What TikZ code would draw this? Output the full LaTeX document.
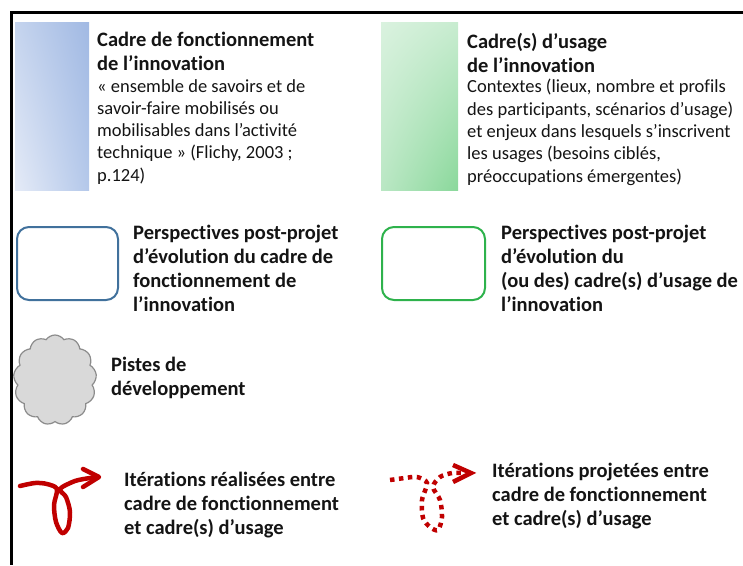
\documentclass[tikz,border=0pt]{standalone}
\usepackage{fontspec}
\setmainfont{Carlito}[Ligatures={NoCommon}]
\usetikzlibrary{shapes.symbols,shadings}
\definecolor{frameblk}{HTML}{000000}
\definecolor{bluestroke}{HTML}{41719C}
\definecolor{greenstroke}{HTML}{2EB24C}
\definecolor{arrowred}{HTML}{C00000}
\definecolor{cloudfill}{HTML}{D9D9D9}
\definecolor{cloudline}{HTML}{8C8C8C}
\definecolor{txt}{HTML}{141414}
\definecolor{bUL}{HTML}{C5D4EE}
\definecolor{bUR}{HTML}{A1B9E3}
\definecolor{bLL}{HTML}{E5EBF7}
\definecolor{bLR}{HTML}{B4C8EA}
\definecolor{gUL}{HTML}{DAF2DF}
\definecolor{gUR}{HTML}{C8ECD0}
\definecolor{gLL}{HTML}{BAE7C4}
\definecolor{gLR}{HTML}{8AD89B}
\tikzset{
  titletxt/.style={anchor=base west, inner sep=0pt, align=left, text=txt,
     font=\fontsize{20.5}{24}\selectfont\bfseries},
  bodytxt/.style={anchor=base west, inner sep=0pt, align=left, text=txt,
     font=\fontsize{18.5}{22.3}\selectfont},
  legendbox/.style={rounded corners=12pt, line width=2pt},
  iterline/.style={draw=arrowred, line width=4.5pt},
}
\begin{document}
\begin{tikzpicture}[x=1pt, y=-1pt]
\useasboundingbox (0,0) rectangle (743,565);
% frame
\draw[line width=3pt, frameblk] (743,12) -- (11,12) -- (11,565);
% gradient boxes
\shade[upper left=bUL, upper right=bUR, lower left=bLL, lower right=bLR] (15,22) rectangle (89,190);
\shade[upper left=gUL, upper right=gUR, lower left=gLL, lower right=gLR] (381,22) rectangle (458,190);
% multi-line nodes are anchored at the baseline of their last line
\node[titletxt] (t1) at (97,70) {Cadre de fonctionnement\\de l’innovation};
\node[bodytxt] (b1) at (97,181.2) {«~ensemble de savoirs et de\\savoir-faire mobilisés ou\\mobilisables dans l’activité\\technique~» (Flichy, 2003 ;\\p.124)};
\node[titletxt] (t2) at (467,72.5) {Cadre(s) d’usage\\de l’innovation};
\node[bodytxt] (b2) at (467,182) {Contextes (lieux, nombre et profils\\des participants, scénarios d’usage)\\et enjeux dans lesquels s’inscrivent\\les usages (besoins ciblés,\\préoccupations émergentes)};
% rounded boxes
\draw[legendbox, bluestroke] (17,227) rectangle (118,300);
\draw[legendbox, greenstroke] (382,227) rectangle (485,300);
\node[titletxt] (p1) at (133,311) {Perspectives post-projet\\d’évolution du cadre de\\fonctionnement de\\l’innovation};
\node[titletxt] (p2) at (501,311) {Perspectives post-projet\\d’évolution du\\(ou des) cadre(s) d’usage de\\l’innovation};
% cloud
\node[cloud, cloud puffs=13, cloud puff arc=110, aspect=0.95, fill=cloudfill, draw=cloudline, line width=1.2pt,
      minimum width=83pt, minimum height=90pt, inner sep=0pt] (cl) at (55,380) {};
\node[titletxt] (pd) at (111,395) {Pistes de\\développement};
% solid iteration arrow
\draw[iterline, line cap=round, line join=round] plot[smooth, tension=0.5] coordinates
  {(20,486) (35,483) (47,484) (57,489) (54,505) (56,522) (62,533) (68,528) (70,512) (66,497) (60,489) (75,481) (90,478) (98,477)};
\draw[iterline, line cap=round, line join=round] (83,469) -- (99,477) -- (83,487);
\node[titletxt] (it1) at (124,534) {Itérations réalisées entre\\cadre de fonctionnement\\et cadre(s) d’usage};
% dotted iteration arrow
\draw[iterline, dash pattern=on 4.5pt off 4.5pt] plot[smooth, tension=0.5] coordinates
  {(390,480) (405,478) (417,477) (427,483) (422,500) (423,518) (430,527) (438,530) (442,517) (440,500) (433,487) (440,477) (452,473) (462,473)};
\draw[iterline, line join=miter] (453,465) -- (471,473) -- (453,482);
\node[titletxt] (it2) at (492,525) {Itérations projetées entre\\cadre de fonctionnement\\et cadre(s) d’usage};
\end{tikzpicture}
\end{document}
